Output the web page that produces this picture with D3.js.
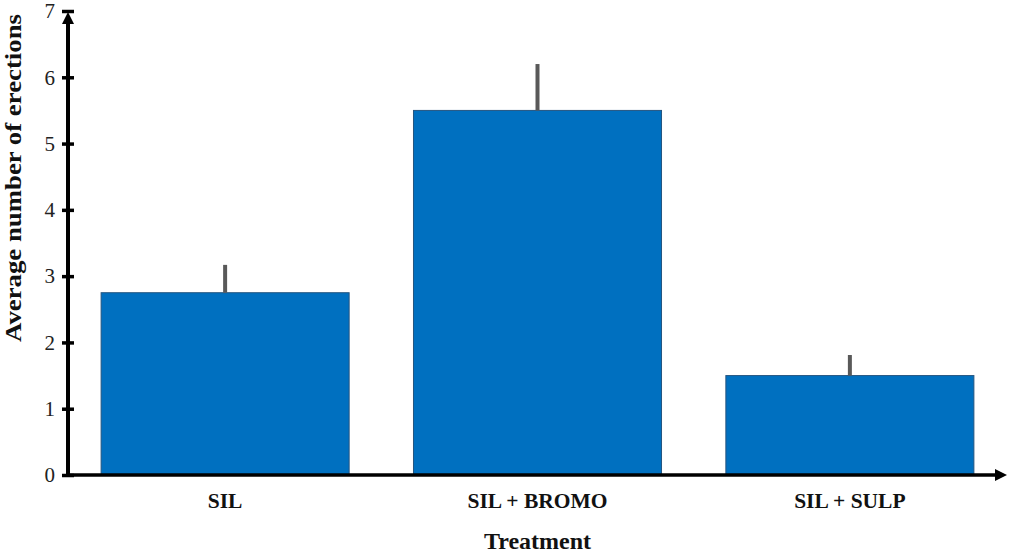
<!DOCTYPE html>
<html>
<head>
<meta charset="utf-8">
<script src="https://cdn.jsdelivr.net/npm/d3@7"></script>
<style>
  html, body { margin: 0; padding: 0; background: #fff; }
  svg text { font-family: "Liberation Serif", "Times New Roman", serif; }
</style>
</head>
<body>
<div id="chart"></div>
<script>
// data
const treatments = ["SIL", "SIL + BROMO", "SIL + SULP"];
const means = [2.75, 5.5, 1.5];
const errUpper = [3.17, 6.2, 1.81];
const yTicks = [0, 1, 2, 3, 4, 5, 6, 7];

const width = 1010, height = 555;
const margin = { top: 11, right: 3, bottom: 80, left: 68 };
const serif = "'Liberation Serif', 'Times New Roman', serif";

const svg = d3.select("#chart").append("svg")
    .attr("width", width)
    .attr("height", height);

const x = d3.scaleBand()
    .domain(treatments)
    .range([margin.left, width - margin.right])
    .paddingInner(0.206)
    .paddingOuter(0.106);

const y = d3.scaleLinear()
    .domain([0, 7])
    .range([height - margin.bottom, margin.top]);

// bars
svg.append("g")
    .selectAll("rect")
    .data(treatments)
    .enter()
    .append("rect")
    .attr("x", d => x(d))
    .attr("width", x.bandwidth())
    .attr("y", (d, i) => y(means[i]))
    .attr("height", (d, i) => y(0) - y(means[i]))
    .attr("fill", "#0070c0")
    .attr("stroke", "#245580")
    .attr("stroke-width", 1);

// error bars (upper only)
svg.append("g")
    .selectAll("line")
    .data(treatments)
    .enter()
    .append("line")
    .attr("x1", d => x(d) + x.bandwidth() / 2)
    .attr("x2", d => x(d) + x.bandwidth() / 2)
    .attr("y1", (d, i) => y(means[i]))
    .attr("y2", (d, i) => y(errUpper[i]))
    .attr("stroke", "#595959")
    .attr("stroke-width", 4);

// y axis
const yAxis = svg.append("g")
    .attr("transform", `translate(${margin.left},0)`)
    .call(d3.axisLeft(y).tickValues(yTicks).tickFormat(d3.format("d")).tickSize(0).tickPadding(13));
yAxis.attr("font-family", null);
yAxis.select(".domain").remove();
yAxis.selectAll(".tick text")
    .style("font-family", serif)
    .style("font-size", "21px")
    .attr("fill", "#222");
yAxis.selectAll(".tick")
    .append("line")
    .attr("x1", -6).attr("x2", 6)
    .attr("stroke", "#000").attr("stroke-width", 3.5);

svg.append("line")
    .attr("x1", margin.left).attr("x2", margin.left)
    .attr("y1", y(0) + 1).attr("y2", y(7) + 8)
    .attr("stroke", "#000").attr("stroke-width", 4);
// arrowhead at top of y axis
svg.append("path")
    .attr("d", `M${margin.left},${y(7) + 1}L${margin.left - 6},${y(7) + 13}L${margin.left + 6},${y(7) + 13}Z`)
    .attr("fill", "#000");

// x axis
const xEnd = width - margin.right;
svg.append("line")
    .attr("x1", margin.left - 2).attr("x2", xEnd - 8)
    .attr("y1", y(0)).attr("y2", y(0))
    .attr("stroke", "#000").attr("stroke-width", 3.5);
svg.append("path")
    .attr("d", `M${xEnd},${y(0)}L${xEnd - 12},${y(0) - 6}L${xEnd - 12},${y(0) + 6}Z`)
    .attr("fill", "#000");

// category labels
svg.append("g")
    .selectAll("text")
    .data(treatments)
    .enter()
    .append("text")
    .attr("x", d => x(d) + x.bandwidth() / 2)
    .attr("y", 508)
    .attr("text-anchor", "middle")
    .style("font-family", serif)
    .style("font-size", "21.5px")
    .style("font-weight", "bold")
    .attr("fill", "#111")
    .text(d => d);

// axis titles
svg.append("text")
    .attr("x", x(treatments[1]) + x.bandwidth() / 2)
    .attr("y", 549)
    .attr("text-anchor", "middle")
    .style("font-family", serif)
    .style("font-size", "24px")
    .style("font-weight", "bold")
    .attr("fill", "#111")
    .text("Treatment");

svg.append("text")
    .attr("transform", "translate(21,178) rotate(-90) scale(1.14,1)")
    .attr("text-anchor", "middle")
    .style("font-family", serif)
    .style("font-size", "23.5px")
    .style("font-weight", "bold")
    .attr("fill", "#111")
    .text("Average number of erections");
</script>
</body>
</html>
